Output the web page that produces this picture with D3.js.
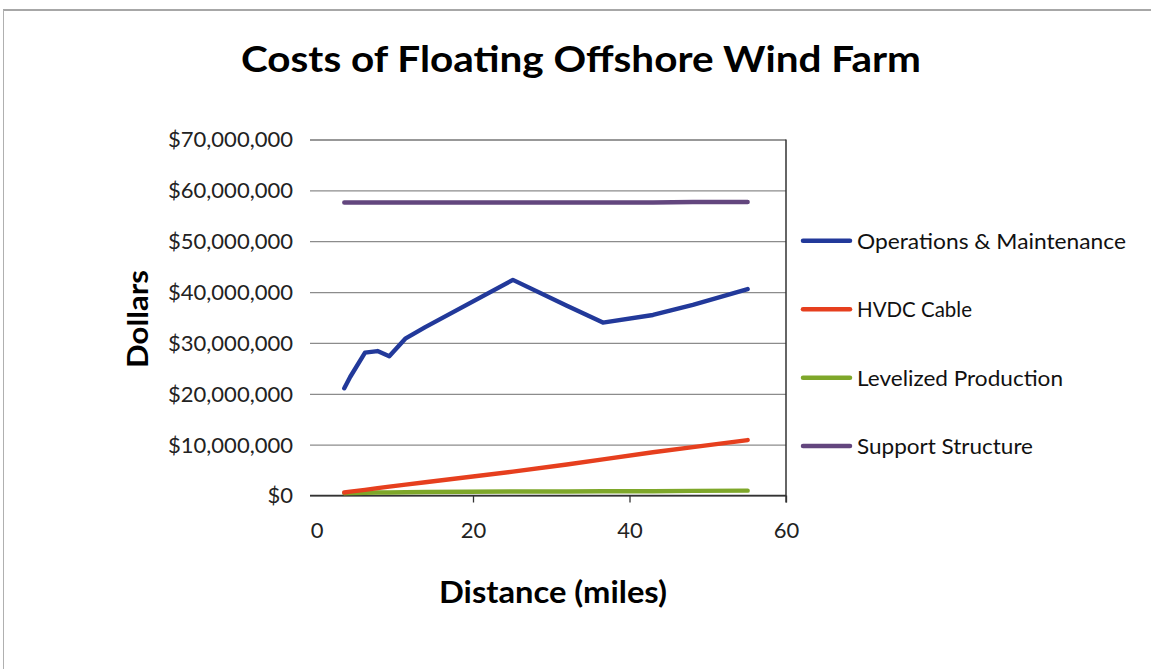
<!DOCTYPE html>
<html><head><meta charset="utf-8">
<script src="https://cdn.jsdelivr.net/npm/d3@7/dist/d3.min.js"></script>
<style>body{margin:0;background:#fff}svg{display:block}text{font-family:Lato,"Open Sans",sans-serif}</style>
</head><body>
<script>
// ---- data ----
const distance = [3.55, 4.3, 6.2, 7.8, 9.3, 11.4, 13.9, 25.1, 32.0, 36.6, 43.0, 48.1, 55.1];
const omCost   = [21.1e6, 23.3e6, 28.1e6, 28.4e6, 27.4e6, 30.9e6, 33.1e6, 42.4e6, 37.3e6, 34.0e6, 35.5e6, 37.5e6, 40.6e6];
const hvdcCost = [0.6e6, 0.75e6, 1.1e6, 1.45e6, 1.75e6, 2.15e6, 2.6e6, 4.7e6, 6.1e6, 7.1e6, 8.5e6, 9.5e6, 10.9e6];
const levCost  = [0.45e6, 0.5e6, 0.55e6, 0.6e6, 0.6e6, 0.65e6, 0.7e6, 0.8e6, 0.8e6, 0.85e6, 0.85e6, 0.9e6, 0.95e6];
const supCost  = [57.6e6, 57.6e6, 57.6e6, 57.6e6, 57.6e6, 57.6e6, 57.6e6, 57.6e6, 57.6e6, 57.6e6, 57.6e6, 57.7e6, 57.7e6];
const seriesNames = ["Operations & Maintenance", "HVDC Cable", "Levelized Production", "Support Structure"];
const seriesColors = ["#22399a", "#e63f1e", "#7ea72a", "#63467e"];
const yTicks = [0, 10e6, 20e6, 30e6, 40e6, 50e6, 60e6, 70e6];
const xTicks = [0, 20, 40, 60];

const W = 1151, H = 669;
const svg = d3.select("body").append("svg").attr("width", W).attr("height", H);

// frame
svg.append("line").attr("x1", 3).attr("x2", W).attr("y1", 10).attr("y2", 10).attr("stroke", "#8a8a8a").attr("stroke-width", 1.5);
svg.append("line").attr("x1", 3.5).attr("x2", 3.5).attr("y1", 10).attr("y2", H).attr("stroke", "#b0b0b0").attr("stroke-width", 1);

const x = d3.scaleLinear().domain([0, 60]).range([316.5, 786]);
const y = d3.scaleLinear().domain([0, 70e6]).range([495.5, 139.5]);

// gridlines
const yAxis = d3.axisLeft(y).tickValues(yTicks).tickSize(-(786 - 316.5)).tickSizeOuter(0)
  .tickFormat(d => "$" + d3.format(",")(d)).tickPadding(23.5);
const gy = svg.append("g").attr("transform", "translate(316.5,0)").call(yAxis);
gy.select(".domain").remove();
gy.selectAll(".tick line").attr("x1", -6.5).attr("stroke", (d) => (d === 0 || d === 70e6) ? "#333" : "#8c8c8c").attr("stroke-width", 1.2);
gy.selectAll(".tick text").attr("font-size", 22).attr("fill", "#222").attr("font-family", "Lato").attr("dy", "0.34em")
  .each(function(d) { if (d >= 10e6) d3.select(this).attr("textLength", 125).attr("lengthAdjust", "spacingAndGlyphs"); });

// right border
svg.append("line").attr("x1", x(60)).attr("x2", x(60)).attr("y1", y(70e6)).attr("y2", y(0) + 7).attr("stroke", "#333").attr("stroke-width", 1.5);

// x axis
const xAxis = d3.axisBottom(x).tickValues(xTicks).tickSize(7).tickSizeOuter(0).tickPadding(20);
const gx = svg.append("g").attr("transform", `translate(0,${y(0)})`).call(xAxis);
gx.select(".domain").attr("d", `M${x(0) - 6.5},0H${x(60)}`).attr("stroke", "#333").attr("stroke-width", 1.3);
gx.selectAll(".tick line").attr("stroke", "#333").attr("stroke-width", 1.3).attr("opacity", d => d === 0 ? 0 : 1);
gx.selectAll(".tick text").attr("font-size", 22).attr("fill", "#222").attr("font-family", "Lato");

// series
const allSeries = [omCost, hvdcCost, levCost, supCost];
const line = d3.line().x(d => x(d[0])).y(d => y(d[1]));
const drawOrder = [3, 2, 1, 0];
drawOrder.forEach(i => {
  const pts = distance.map((dx, k) => [dx, allSeries[i][k]]);
  svg.append("path").attr("d", line(pts)).attr("fill", "none")
    .attr("stroke", seriesColors[i]).attr("stroke-width", 4.4)
    .attr("stroke-linejoin", "round").attr("stroke-linecap", "round");
});

// legend
const legY = [240.7, 309.3, 377.7, 446];
const legW = [269, 115, 206, 176];
seriesNames.forEach((name, i) => {
  svg.append("line").attr("x1", 803).attr("x2", 850).attr("y1", legY[i]).attr("y2", legY[i])
    .attr("stroke", seriesColors[i]).attr("stroke-width", 4.5).attr("stroke-linecap", "round");
  svg.append("text").attr("x", 857).attr("y", legY[i]).attr("dy", "0.36em")
    .attr("font-size", 22).attr("fill", "#111")
    .attr("textLength", legW[i]).attr("lengthAdjust", "spacingAndGlyphs").text(name);
});

// titles
svg.append("text").attr("x", 581).attr("y", 72).attr("text-anchor", "middle")
  .attr("font-size", 36).attr("font-weight", "bold").attr("fill", "#000")
  .attr("textLength", 680).attr("lengthAdjust", "spacingAndGlyphs")
  .text("Costs of Floating Offshore Wind Farm");
svg.append("text").attr("x", 553).attr("y", 603).attr("text-anchor", "middle")
  .attr("font-size", 30).attr("font-weight", "bold").attr("fill", "#000")
  .attr("textLength", 228).attr("lengthAdjust", "spacingAndGlyphs")
  .text("Distance (miles)");
svg.append("text").attr("transform", "translate(148,319) rotate(-90)").attr("text-anchor", "middle")
  .attr("font-size", 28).attr("font-weight", "bold").attr("fill", "#000")
  .attr("textLength", 98).attr("lengthAdjust", "spacingAndGlyphs")
  .text("Dollars");
</script>
</body></html>
